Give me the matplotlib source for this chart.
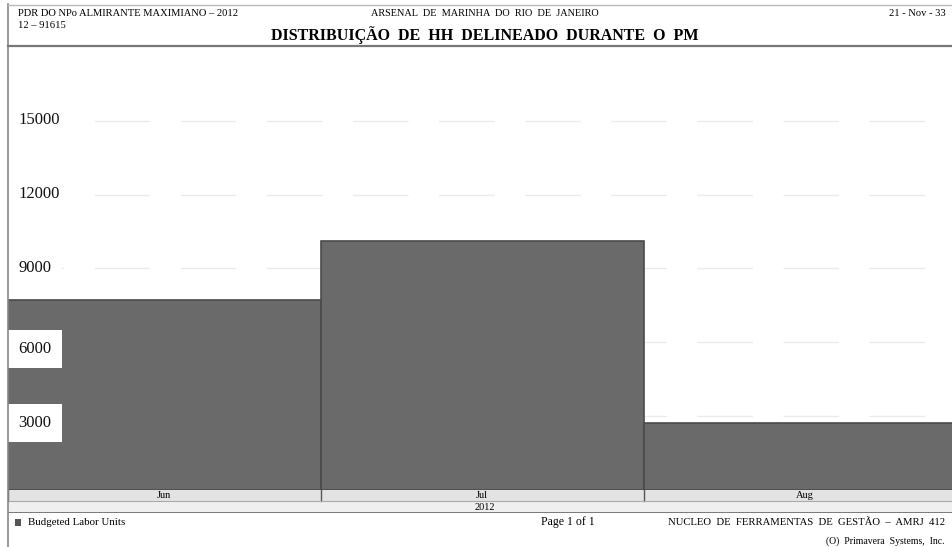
import matplotlib
matplotlib.use("Agg")
import matplotlib.pyplot as plt
from matplotlib.patches import Rectangle
from matplotlib.lines import Line2D

# Monthly budgeted labor units (HH)
months = ["Jun", "Jul", "Aug"]
month_days = [30, 31, 31]
budgeted_units = [7700, 10100, 2700]
year_label = "2012"
y_ticks = [3000, 6000, 9000, 12000, 15000]

W, H = 952, 547
fig = plt.figure(figsize=(W / 100, H / 100), dpi=100)
fig.patch.set_facecolor("white")
plt.rcParams["font.family"] = ["Liberation Serif", "DejaVu Serif"]


def fx(px):
    return px / W


def fy(py):
    return 1 - py / H


# plot area
left, right, top, bottom = 8, 952, 47, 489.5
x_span = 90.6
ax = fig.add_axes([fx(left), fy(bottom), fx(right - left), fy(top) - fy(bottom)])
starts = [sum(month_days[:i]) for i in range(len(months))]
ax.bar(starts, budgeted_units, width=month_days, align="edge",
       color="#6a6a6a", edgecolor="#4a4a4a", linewidth=1.2, zorder=2)
ax.set_xlim(0, x_span)
ax.set_ylim(0, 18000)
for v in y_ticks:
    ax.axhline(v, color="#ebebeb", lw=1.0, ls=(0, (40, 22)), zorder=1)
    # labels sitting on top of the first bar are drawn in a white box, a bit lower
    inside = v < budgeted_units[0]
    ax.annotate(str(v), xy=(0.011, v), xycoords=ax.get_yaxis_transform(),
                xytext=(0, -7 if inside else 0.5), textcoords="offset pixels",
                ha="left", va="center", fontsize=12, color="#111111", zorder=4,
                bbox=dict(boxstyle="square,pad=0.65", fc="white", ec="none"))
ax.set_xticks([])
ax.set_yticks([])
for s in ax.spines.values():
    s.set_visible(False)

# month band and year band beneath the plot
band = fig.add_axes([fx(left), fy(513), fx(right - left), fy(489.5) - fy(513)])
band.set_xlim(0, x_span)
band.set_ylim(0, 2)
band.add_patch(Rectangle((0, 1), x_span, 1, fc="#e3e3e3", ec="none"))
band.add_patch(Rectangle((0, 0), x_span, 1, fc="#efefef", ec="none"))
for s, d, m in zip(starts, month_days, months):
    band.axvline(s, ymin=0.5, ymax=1, color="#555555", lw=1)
    band.text(s + d / 2, 1.5, m, ha="center", va="center", fontsize=7.5)
band.axhline(1, color="#aaaaaa", lw=0.8)
band.axhline(0.02, color="#666666", lw=1.2)
band.text((fx(485) - fx(left)) / fx(right - left) * x_span, 0.45, year_label,
          ha="center", va="center", fontsize=7.5)
band.set_xticks([])
band.set_yticks([])
for s in band.spines.values():
    s.set_visible(False)

# frame lines
fig.add_artist(Line2D([fx(8), fx(8)], [fy(4), fy(547)], color="#888888", lw=1.2))
fig.add_artist(Line2D([fx(8), fx(952)], [fy(5), fy(5)], color="#bbbbbb", lw=1))
fig.add_artist(Line2D([fx(8), fx(952)], [fy(45.5), fy(45.5)], color="#777777", lw=1.6))

# header texts
fig.text(fx(18), fy(14), "PDR DO NPo ALMIRANTE MAXIMIANO – 2012",
         ha="left", va="center", fontsize=7.6)
fig.text(fx(18), fy(25), "12 – 91615", ha="left", va="center", fontsize=7.6)
fig.text(fx(485), fy(14), "ARSENAL  DE  MARINHA  DO  RIO  DE  JANEIRO",
         ha="center", va="center", fontsize=7.4)
fig.text(fx(485), fy(35), "DISTRIBUIÇÃO  DE  HH  DELINEADO  DURANTE  O  PM",
         ha="center", va="center", fontsize=11.5, fontweight="bold")
fig.text(fx(946), fy(14), "21 - Nov - 33", ha="right", va="center", fontsize=7.6)

# footer: legend and credits
fig.add_artist(Rectangle((fx(15), fy(526)), fx(6), fy(519) - fy(526),
                         fc="#555555", ec="none"))
fig.text(fx(28), fy(522.5), "Budgeted Labor Units", ha="left", va="center",
         fontsize=7.8)
fig.text(fx(568), fy(522.5), "Page 1 of 1", ha="center", va="center",
         fontsize=8.5)
fig.text(fx(945), fy(522.5), "NUCLEO  DE  FERRAMENTAS  DE  GESTÃO  –  AMRJ  412",
         ha="right", va="center", fontsize=7.7)
fig.text(fx(945), fy(541), "(O)  Primavera  Systems,  Inc.",
         ha="right", va="center", fontsize=7)

fig.savefig("out.png", dpi=100, facecolor="white")
